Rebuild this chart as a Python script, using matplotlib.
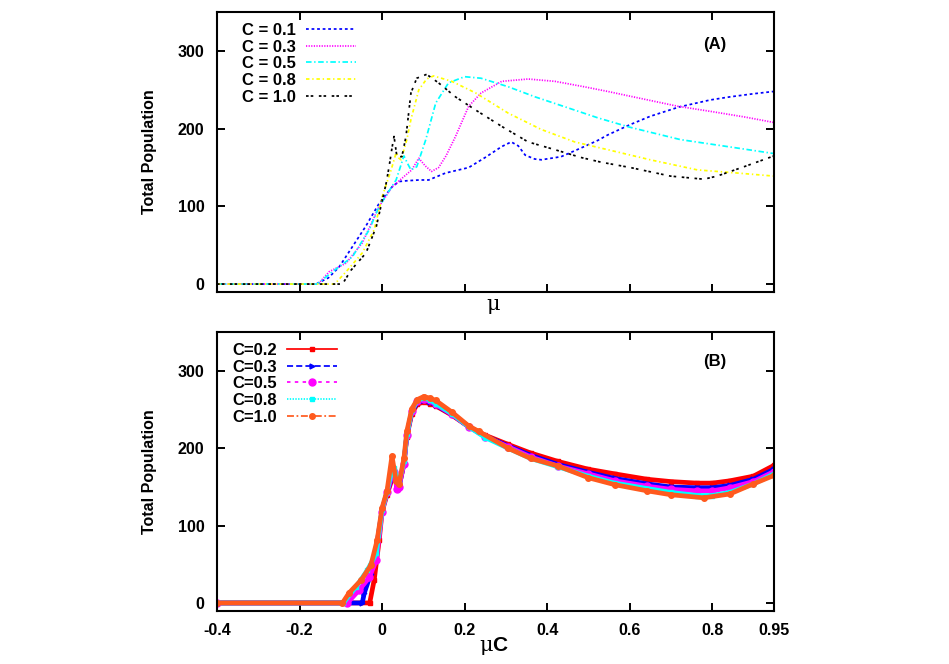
import matplotlib
matplotlib.use('Agg')
import matplotlib.pyplot as plt

plt.rcParams['font.family'] = ['Liberation Sans', 'DejaVu Sans']
plt.rcParams['font.weight'] = 'bold'
plt.rcParams['mathtext.fontset'] = 'custom'
plt.rcParams['mathtext.rm'] = 'DejaVu Serif:weight=normal'
plt.rcParams['mathtext.bf'] = 'Liberation Sans:weight=bold'

# ---------------- Panel A data (x = mu) ----------------
a_x_01 = [-0.4, -0.16, -0.13, -0.104, -0.072, -0.04, -0.007, 0.024, 0.041, 0.06, 0.09, 0.113, 0.154,
          0.21, 0.25, 0.29, 0.313, 0.33, 0.347, 0.37, 0.386, 0.434, 0.49, 0.523, 0.547, 0.6, 0.65,
          0.72, 0.795, 0.843, 0.9, 0.95]
a_y_01 = [0, 0, 8, 22, 48, 74, 104, 125, 132, 133, 134, 134, 143, 150, 163, 177, 183, 178, 166, 161,
          160, 164, 177, 185, 192, 205, 216, 228, 237, 241, 245, 248]

a_x_03 = [-0.4, -0.155, -0.128, -0.087, -0.048, -0.007, 0.024, 0.05, 0.072, 0.089, 0.105, 0.12, 0.137,
          0.155, 0.178, 0.21, 0.24, 0.29, 0.354, 0.419, 0.49, 0.547, 0.6, 0.716, 0.8, 0.88, 0.95]
a_y_03 = [0, 0, 16, 27, 53, 100, 125, 137, 147, 162, 152, 145, 150, 165, 190, 229, 246, 261, 264, 261,
          254, 248, 242, 229, 222, 215, 208]

a_x_05 = [-0.4, -0.157, -0.12, -0.072, -0.031, -0.007, 0.034, 0.053, 0.062, 0.07, 0.084, 0.106, 0.13,
          0.161, 0.2, 0.24, 0.306, 0.371, 0.45, 0.523, 0.6, 0.723, 0.85, 0.95]
a_y_05 = [0, 0, 16, 35, 70, 100, 134, 165, 155, 147, 151, 186, 233, 259, 267, 265, 254, 241, 227, 214,
          202, 186, 176, 168]

a_x_08 = [-0.4, -0.115, -0.087, -0.048, -0.019, 0.0, 0.022, 0.034, 0.041, 0.046, 0.06, 0.07, 0.089,
          0.108, 0.125, 0.169, 0.227, 0.306, 0.386, 0.467, 0.547, 0.65, 0.764, 0.86, 0.95]
a_y_08 = [0, 0, 16, 40, 70, 112, 147, 169, 162, 160, 186, 212, 250, 264, 268, 261, 246, 220, 199, 183,
          173, 160, 147, 143, 139]

a_x_10 = [-0.4, -0.096, -0.075, -0.039, -0.014, 0.01, 0.017, 0.024, 0.029, 0.036, 0.048, 0.058, 0.07,
          0.084, 0.108, 0.137, 0.178, 0.227, 0.29, 0.354, 0.419, 0.482, 0.53, 0.602, 0.699, 0.78,
          0.812, 0.877, 0.95]
a_y_10 = [0, 0, 18, 40, 74, 130, 151, 175, 190, 164, 164, 190, 246, 265, 270, 259, 241, 224, 203, 183,
          173, 163, 157, 150, 139, 135, 139, 151, 165]

a_labels = ['C = 0.1', 'C = 0.3', 'C = 0.5', 'C = 0.8', 'C = 1.0']

# ---------------- Panel B data (x = mu*C) ----------------
b_x_02 = [-0.4, -0.03, -0.019, -0.007, 0.0, 0.012, 0.024, 0.03, 0.036, 0.041, 0.053, 0.06, 0.072,
          0.085, 0.101, 0.115, 0.13, 0.169, 0.21, 0.25, 0.306, 0.36, 0.427, 0.5, 0.564, 0.643, 0.7,
          0.764, 0.8, 0.843, 0.9, 0.95]
b_y_02 = [0, 0, 30, 81, 118, 140, 160, 165, 152, 150, 180, 215, 245, 257, 260, 258, 255, 243, 228, 217,
          205, 194, 183, 173, 167, 160, 157, 155, 155, 158, 164, 178]

b_x_03 = [-0.4, -0.048, -0.043, -0.027, -0.012, 0.0, 0.012, 0.024, 0.03, 0.036, 0.041, 0.053, 0.06,
          0.072, 0.085, 0.101, 0.115, 0.13, 0.169, 0.21, 0.25, 0.306, 0.36, 0.427, 0.5, 0.564, 0.643,
          0.7, 0.764, 0.8, 0.843, 0.9, 0.95]
b_y_03 = [0, 0, 13, 38, 78, 120, 143, 163, 168, 152, 150, 181, 217, 247, 259, 262, 260, 256, 244, 228,
          216, 203, 191, 179, 169, 161, 154, 150, 149, 149, 152, 160, 173]

b_x_05 = [-0.4, -0.084, -0.055, -0.031, -0.014, 0.0, 0.012, 0.024, 0.03, 0.036, 0.041, 0.053, 0.06,
          0.072, 0.085, 0.101, 0.115, 0.13, 0.169, 0.21, 0.25, 0.306, 0.36, 0.427, 0.5, 0.564, 0.643,
          0.7, 0.764, 0.8, 0.843, 0.9, 0.95]
b_y_05 = [0, 0, 17, 33, 55, 118, 143, 165, 170, 147, 150, 180, 217, 248, 261, 264, 262, 257, 244, 228,
          215, 202, 189, 177, 167, 158, 151, 147, 145, 145, 149, 157, 170]

b_x_08 = [-0.4, -0.094, -0.063, -0.036, -0.014, 0.0, 0.012, 0.024, 0.03, 0.036, 0.041, 0.053, 0.06,
          0.072, 0.085, 0.101, 0.115, 0.13, 0.169, 0.21, 0.25, 0.306, 0.36, 0.427, 0.5, 0.564, 0.643,
          0.7, 0.764, 0.8, 0.843, 0.9, 0.95]
b_y_08 = [0, 0, 21, 42, 64, 120, 144, 172, 175, 158, 156, 183, 218, 249, 262, 265, 263, 258, 245, 228,
          214, 200, 187, 176, 164, 155, 148, 143, 139, 139, 143, 154, 167]

b_x_10 = [-0.4, -0.096, -0.08, -0.05, -0.027, -0.012, 0.0, 0.012, 0.024, 0.034, 0.041, 0.053, 0.06,
          0.072, 0.085, 0.101, 0.115, 0.13, 0.169, 0.21, 0.234, 0.306, 0.36, 0.427, 0.5, 0.564, 0.643,
          0.7, 0.78, 0.843, 0.9, 0.95]
b_y_10 = [0, 0, 13, 30, 49, 81, 123, 145, 190, 158, 154, 187, 222, 251, 263, 267, 265, 262, 247, 229,
          222, 200, 187, 177, 162, 153, 145, 140, 136, 141, 154, 165]

b_labels = ['C=0.2', 'C=0.3', 'C=0.5', 'C=0.8', 'C=1.0']

x_ticks = [-0.4, -0.2, 0, 0.2, 0.4, 0.6, 0.8, 0.95]
x_tick_labels = ['-0.4', '-0.2', '0', '0.2', '0.4', '0.6', '0.8', '0.95']
y_ticks = [0, 100, 200, 300]

# ---------------- Figure ----------------
fig = plt.figure(figsize=(9.49, 6.64), dpi=100)
axA = fig.add_axes([0.2287, 0.5605, 0.5869, 0.4211])
axB = fig.add_axes([0.2287, 0.0803, 0.5869, 0.4191])

lw = 1.25
axA.plot(a_x_01, a_y_01, color='#0000ff', lw=lw, ls=(0, (1.6, 1.6)), label=a_labels[0])
axA.plot(a_x_03, a_y_03, color='#ff00ff', lw=lw, ls=(0, (0.7, 0.8)), label=a_labels[1])
axA.plot(a_x_05, a_y_05, color='#00ffff', lw=lw, ls=(0, (3.2, 1.5, 0.8, 1.5)), label=a_labels[2])
axA.plot(a_x_08, a_y_08, color='#ffff00', lw=lw, ls=(0, (2.0, 1.6, 0.8, 1.6)), label=a_labels[3])
axA.plot(a_x_10, a_y_10, color='#000000', lw=lw, ls=(0, (1.5, 1.2, 1.5, 3.2)), label=a_labels[4])

b_series = [
    (b_x_02, b_y_02, '#ff0000', '-', 's', 2.5),
    (b_x_03, b_y_03, '#0000ff', (0, (3.5, 1.8)), '>', 3.5),
    (b_x_05, b_y_05, '#ff00ff', (0, (2.0, 2.5)), 'o', 5.0),
    (b_x_08, b_y_08, '#00ffff', (0, (0.8, 0.8)), 's', 3.0),
    (b_x_10, b_y_10, '#ff5a1e', (0, (4.0, 1.5, 1.0, 1.5)), 'o', 4.0),
]
for (bx, by, col, ls, mk, ms), lab in zip(b_series, b_labels):
    axB.plot(bx, by, color=col, lw=3.4, ls='-', solid_capstyle='butt')
    axB.plot(bx, by, color=col, lw=lw, ls=ls, marker=mk, ms=ms, mec=col, mfc=col, label=lab)

for ax in (axA, axB):
    ax.set_xlim(-0.4, 0.95)
    ax.set_ylim(-10, 350)
    ax.set_xticks(x_ticks)
    ax.set_yticks(y_ticks)
    ax.tick_params(direction='in', top=True, right=True, length=6, width=1.4,
                   labelsize=11.5, pad=9)
    for s in ax.spines.values():
        s.set_linewidth(1.5)
    ax.set_ylabel('Total Population', fontsize=11.5, fontweight='bold')
    ax.yaxis.set_label_coords(-0.108, 0.5)

axA.set_xticklabels([])
axB.set_xticklabels(x_tick_labels)

axA.set_xlabel(r'$\mathrm{\mu}$', fontsize=15, fontweight='normal')
axA.xaxis.set_label_coords(0.497, -0.02)
axB.set_xlabel(r'$\mathrm{\mu}\mathbf{C}$', fontsize=15, fontweight='normal')
axB.xaxis.set_label_coords(0.497, -0.088)

axA.text(0.894, 0.886, '(A)', transform=axA.transAxes, ha='center', va='center',
         fontsize=12, fontweight='bold')
axB.text(0.894, 0.894, '(B)', transform=axB.transAxes, ha='center', va='center',
         fontsize=12, fontweight='bold')

legA = axA.legend(loc='upper left', bbox_to_anchor=(0.045, 0.962), frameon=False, markerfirst=False,
                  fontsize=12, handlelength=3.0, handletextpad=0.6, labelspacing=0.1,
                  borderpad=0, borderaxespad=0)
legB = axB.legend(loc='upper left', bbox_to_anchor=(0.027, 0.962), frameon=False, markerfirst=False,
                  fontsize=12, handlelength=3.0, handletextpad=0.6, labelspacing=0.1,
                  borderpad=0, borderaxespad=0)

fig.savefig('out.png', dpi=100)
